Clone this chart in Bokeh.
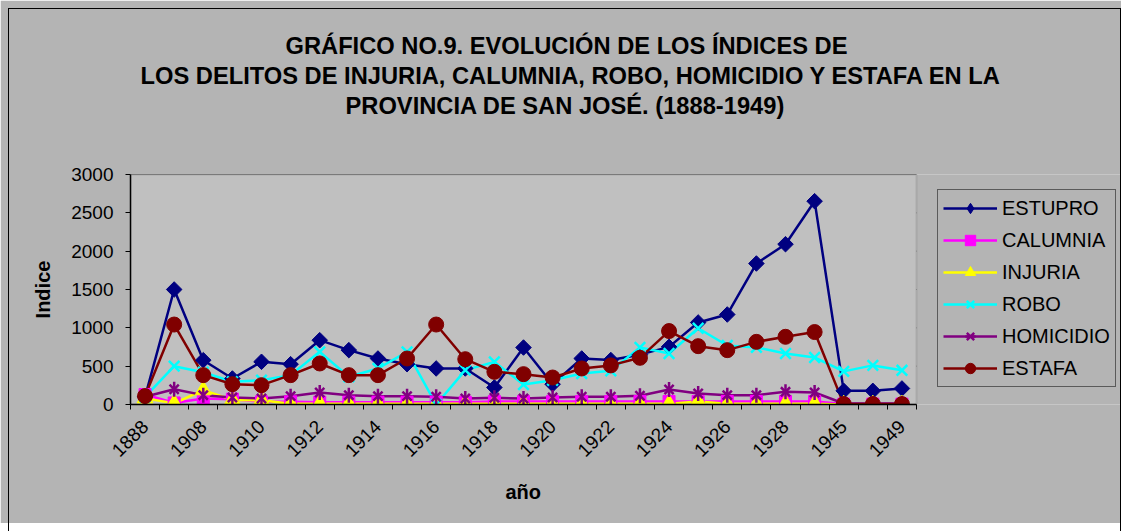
import math
from bokeh.plotting import figure
from bokeh.models import Range1d, FixedTicker, Title, Legend, LegendItem, BoxAnnotation
from bokeh.embed import file_html
from bokeh.resources import INLINE

# ---------------- data ----------------
categories = ["1888", "1907", "1908", "1909", "1910", "1911", "1912", "1913", "1914",
              "1915", "1916", "1917", "1918", "1919", "1920", "1921", "1922", "1923",
              "1924", "1925", "1926", "1927", "1928", "1929", "1945", "1947", "1949"]
tick_labels = ["1888", "1908", "1910", "1912", "1914", "1916", "1918", "1920",
               "1922", "1924", "1926", "1928", "1945", "1949"]
y_ticks = [0, 500, 1000, 1500, 2000, 2500, 3000]

estupro = [100, 1500, 578, 339, 557, 526, 839, 709, 600, 526, 470, 470, 222, 743,
           265, 600, 580, 650, 752, 1070, 1174, 1839, 2091, 2652, 178, 178, 209]
calumnia = [130, 20, 78, 70, 35, 35, 30, 30, 30, 30, 30, 30, 40, 40,
            40, 40, 40, 40, 40, 40, 40, 40, 40, 40, 5, 5, 5]
injuria = [80, 15, 187, 60, 56, 10, 10, 10, 10, 10, 10, 10, 10, 10,
           10, 10, 10, 10, 10, 40, 10, 10, 10, 10, 0, 0, 0]
robo = [100, 500, 420, 296, 317, 383, 687, 361, 470, 687, 0, 448, 556, 260,
        317, 404, 440, 745, 665, 995, 770, 745, 665, 613, 432, 510, 446]
homicidio = [100, 200, 122, 91, 78, 109, 157, 122, 109, 109, 100, 78, 87, 78,
             91, 100, 100, 113, 196, 143, 122, 122, 165, 157, 13, 13, 13]
estafa = [110, 1043, 383, 265, 252, 383, 535, 383, 383, 600, 1043, 591, 426, 396,
          352, 470, 510, 609, 958, 761, 709, 817, 883, 945, 5, 5, 5]

series_names = ["ESTUPRO", "CALUMNIA", "INJURIA", "ROBO", "HOMICIDIO", "ESTAFA"]
series_vals = [estupro, calumnia, injuria, robo, homicidio, estafa]
series_colors = ["#000080", "#ff00ff", "#ffff00", "#00ffff", "#800080", "#800000"]

title_lines = ["GRÁFICO NO.9.  EVOLUCIÓN DE LOS ÍNDICES DE",
               "LOS DELITOS DE INJURIA, CALUMNIA, ROBO, HOMICIDIO Y ESTAFA EN LA",
               "PROVINCIA DE SAN JOSÉ.  (1888-1949)"]
x_title = "año"
y_title = "Indice"

FONT = "Liberation Sans"
n = len(categories)
x = list(range(n))

# layout (pixels): plot area 130..916 wide, 174..404 tall; legend sits to the right
FIG_W, FIG_H = 1121, 523
LEFT, TOP, BOTTOM = 130, 174, 119
AREA_W = 786
frame_w = FIG_W - LEFT
x_end = -0.5 + frame_w / (AREA_W / n)

p = figure(width=FIG_W, height=FIG_H, output_backend="svg", toolbar_location=None,
           x_range=Range1d(-0.5, x_end), y_range=Range1d(0, 3000),
           min_border_left=LEFT, min_border_right=0, min_border_top=TOP,
           min_border_bottom=BOTTOM,
           background_fill_color="#b4b4b4", border_fill_color="#b4b4b4")
p.stylesheets = [":host::after { content: ''; position: absolute; left: 8px; top: 8px; "
                 "right: 0px; bottom: -10px; border: 1.5px solid black; "
                 "pointer-events: none; z-index: 10; }"]
p.outline_line_color = None
p.xgrid.visible = False
p.ygrid.visible = False

# plot area box and its gridlines
p.add_layout(BoxAnnotation(left=-0.5, right=n - 0.5, bottom=y_ticks[0], top=y_ticks[-1],
                           fill_color="#c0c0c0", fill_alpha=1,
                           line_color="#808080", line_width=2, level="underlay"))
p.segment(x0=[-0.5] * len(y_ticks), x1=[n - 0.5] * len(y_ticks), y0=y_ticks, y1=y_ticks,
          line_color="black", line_width=1, level="underlay")

# x axis
p.xaxis.bounds = (-0.5, n - 0.5)
p.xaxis.ticker = FixedTicker(ticks=list(range(0, n, 2)),
                             minor_ticks=[i + 0.5 for i in range(-1, n)])
p.xaxis.major_label_overrides = {i * 2: lbl for i, lbl in enumerate(tick_labels)}
p.xaxis.major_label_orientation = math.pi / 4
p.xaxis.major_tick_line_color = None
p.xaxis.major_tick_out = 5
p.xaxis.minor_tick_out = 5
p.xaxis.minor_tick_in = 0
p.xaxis.minor_tick_line_color = "black"
p.xaxis.major_label_standoff = 14

# y axis
p.yaxis.ticker = FixedTicker(ticks=y_ticks)
p.yaxis.minor_tick_line_color = None
p.yaxis.major_tick_out = 5
p.yaxis.major_tick_in = 0
p.yaxis.major_label_standoff = 12
p.yaxis.axis_label = y_title
p.yaxis.axis_label_standoff = 14

for ax in (p.xaxis, p.yaxis):
    ax.axis_line_color = "black"
    ax.axis_line_width = 1.5
    ax.major_label_text_font = FONT
    ax.major_label_text_font_size = "19px"
    ax.major_label_text_color = "black"
    ax.axis_label_text_font = FONT
    ax.axis_label_text_font_size = "20px"
    ax.axis_label_text_font_style = "bold"
    ax.axis_label_text_color = "black"

# x axis title centred under the plot area (not under the legend)
p.add_layout(Title(text=x_title, align="left", offset=375, standoff=26,
                   text_font=FONT, text_font_size="20px", text_font_style="bold",
                   text_color="black"), "below")

# lines first
lines = []
for vals, col in zip(series_vals, series_colors):
    lines.append(p.line(x, vals, line_color=col, line_width=2.5))

markers = []
p.scatter(x, estupro, marker="square", angle=math.pi / 4, size=11,
          fill_color="#000080", line_color="#000080")
# legend-only diamond (no visible data point)
markers.append([p.scatter([math.nan], [math.nan], marker="diamond", size=19,
                          fill_color="#000080", line_color="#000080")])
markers.append([p.scatter(x, calumnia, marker="square", size=12,
                          fill_color="#ff00ff", line_color="#ff00ff")])
markers.append([p.scatter(x, injuria, marker="triangle", size=16,
                          fill_color="#ffff00", line_color="#ffff00")])
markers.append([p.scatter(x, robo, marker="x", size=15, line_width=2.5,
                          line_color="#00ffff")])
markers.append([p.scatter(x, homicidio, marker="x", size=13, line_width=2.5,
                          line_color="#800080"),
                p.scatter(x, homicidio, marker="dash", angle=math.pi / 2, size=15,
                          line_width=2.5, line_color="#800080")])
markers.append([p.scatter(x, estafa, marker="circle", size=15,
                          fill_color="#800000", line_color="#800000")])

items = [LegendItem(label=name, renderers=[ln] + mk)
         for name, ln, mk in zip(series_names, lines, markers)]
legend = Legend(items=items, location=(807, 17), orientation="vertical",
                border_line_color="black", border_line_width=1.5,
                background_fill_color="#b4b4b4", background_fill_alpha=1,
                label_text_font=FONT, label_text_font_size="20px",
                label_text_color="black",
                glyph_width=54, glyph_height=26, label_height=26, spacing=6,
                padding=5, margin=0, label_standoff=5)
p.add_layout(legend)

# title lines stacked upwards from the plot: spacer, line 3, line 2, line 1
p.add_layout(Title(text=" ", text_font_size="1px", standoff=52), "above")
offsets = [155, 10, 215]
for t, off in reversed(list(zip(title_lines, offsets))):
    p.add_layout(Title(text=t, align="left", offset=off, standoff=1.5,
                       text_font=FONT, text_font_size="23.7px", text_font_style="bold",
                       text_color="black"), "above")

open("out.html", "w").write(file_html(p, INLINE))
